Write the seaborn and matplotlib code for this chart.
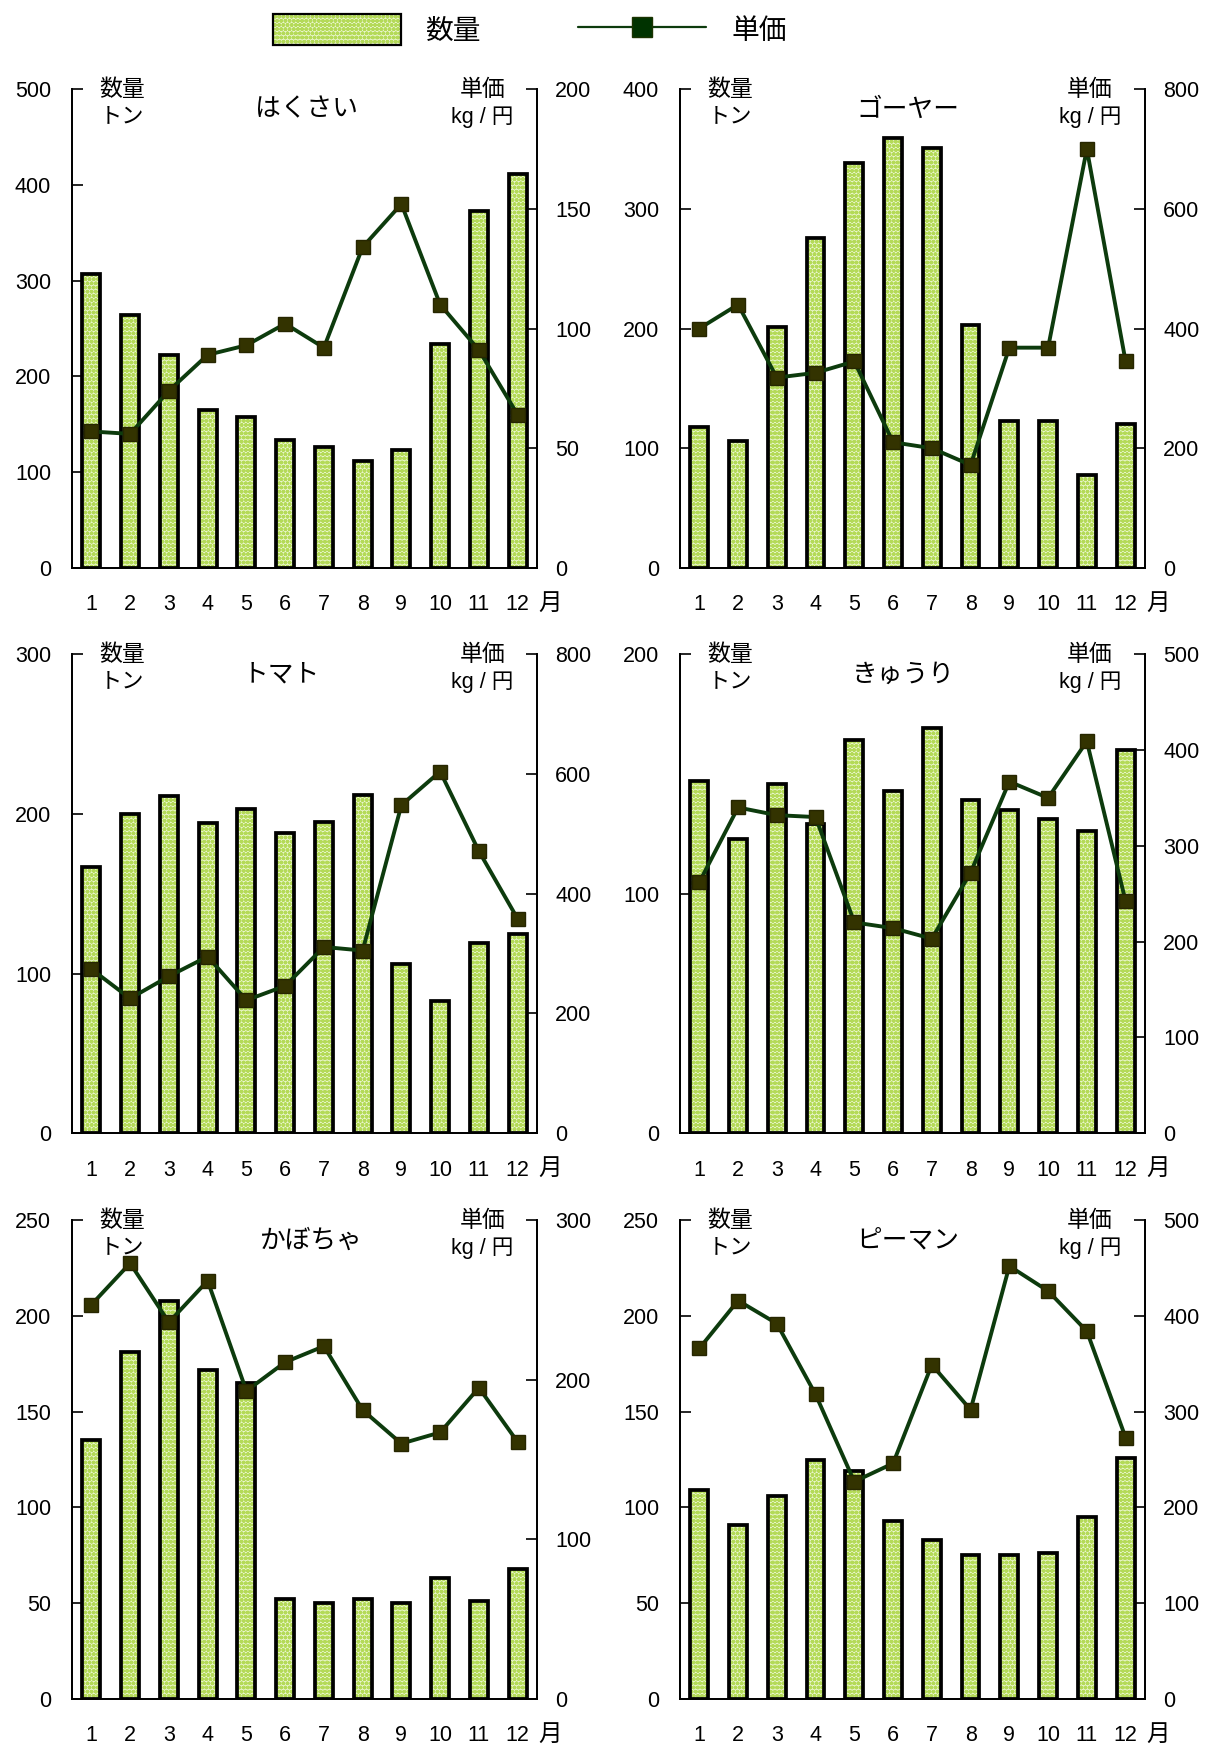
import numpy as np
import seaborn as sns
import matplotlib.pyplot as plt
from matplotlib.patches import Patch
from matplotlib.lines import Line2D
from matplotlib.legend_handler import HandlerTuple
import matplotlib.transforms as mtransforms

months = [str(m) for m in range(1, 13)]

names = ["はくさい", "ゴーヤー", "トマト", "きゅうり", "かぼちゃ", "ピーマン"]

qty_hakusai = [307, 264, 222, 165, 158, 134, 126, 112, 123, 234, 373, 411]
qty_goya = [118, 106, 201, 276, 338, 359, 351, 203, 123, 123, 78, 120]
qty_tomato = [167, 200, 211, 194, 203, 188, 195, 212, 106, 83, 119, 125]
qty_kyuri = [147, 123, 146, 129, 164, 143, 169, 139, 135, 131, 126, 160]
qty_kabocha = [135, 181, 208, 172, 165, 52, 50, 52, 50, 63, 51, 68]
qty_piman = [109, 91, 106, 125, 119, 93, 83, 75, 75, 76, 95, 126]

price_hakusai = [57, 56, 74, 89, 93, 102, 92, 134, 152, 110, 91, 64]
price_goya = [400, 440, 318, 326, 345, 210, 200, 172, 368, 368, 700, 345]
price_tomato = [274, 225, 262, 295, 222, 246, 311, 305, 548, 604, 471, 358]
price_kyuri = [262, 340, 332, 330, 220, 214, 203, 272, 367, 350, 409, 242]
price_kabocha = [247, 273, 236, 262, 193, 211, 221, 181, 160, 167, 195, 161]
price_piman = [366, 416, 392, 318, 227, 246, 349, 302, 452, 426, 384, 273]

qty_list = [qty_hakusai, qty_goya, qty_tomato, qty_kyuri, qty_kabocha, qty_piman]
price_list = [price_hakusai, price_goya, price_tomato, price_kyuri, price_kabocha, price_piman]

# (max, step) for left and right axes
y_left = [(500, 100), (400, 100), (300, 100), (200, 100), (250, 50), (250, 50)]
y_right = [(200, 50), (800, 200), (800, 200), (500, 100), (300, 100), (500, 100)]
title_x = [0.504, 0.49, 0.45, 0.48, 0.515, 0.49]

sns.set_style("white")
plt.rcParams['font.family'] = ['Liberation Sans', 'Noto Sans CJK JP']
plt.rcParams['hatch.linewidth'] = 1.4
plt.rcParams['text.color'] = 'black'
plt.rcParams['xtick.color'] = 'black'
plt.rcParams['ytick.color'] = 'black'

BAR_FACE = "#e9f5cc"
BAR_HATCH = "#b4da58"
LINE_COL = "#0d3b0d"
MARK_COL = "#333300"

fig = plt.figure(figsize=(12.12, 17.46), dpi=100)

lefts = [0.0594, 0.561]
bottoms = [0.6747, 0.351, 0.0269]
w, h = 0.3837, 0.2743

for i in range(6):
    r, c = divmod(i, 2)
    ax = fig.add_axes([lefts[c], bottoms[r], w, h])
    pos = np.arange(12)

    sns.barplot(x=months, y=qty_list[i], ax=ax, color=BAR_FACE, saturation=1,
                width=0.46, hatch="oooo", edgecolor=BAR_HATCH, linewidth=0)
    sns.barplot(x=months, y=qty_list[i], ax=ax, fill=False, width=0.46,
                edgecolor="black", linewidth=2.7)

    lmax, lstep = y_left[i]
    ax.set_ylim(0, lmax)
    ax.set_yticks(np.arange(0, lmax + 1, lstep))
    ax.set_xlim(-0.5, 11.5)
    ax.set_xticks(pos)
    ax.set_xticklabels(months)
    ax.set_xticks(np.arange(0.5, 11, 1), minor=True)
    ax.tick_params(axis='x', which='major', length=0, pad=19, labelsize=15.5)
    ax.tick_params(axis='x', which='minor', direction='in', length=6, width=1.2)
    ax.tick_params(axis='y', direction='in', length=8, width=1.2, pad=15, labelsize=15.5, left=True)
    ax.set_xlabel("")
    ax.set_ylabel("")
    for s in ["left", "bottom", "right"]:
        ax.spines[s].set_linewidth(1.3)
        ax.spines[s].set_color("black")
    ax.spines["top"].set_visible(False)

    ax2 = ax.twinx()
    sns.lineplot(x=pos, y=price_list[i], ax=ax2, color=LINE_COL, linewidth=2.8,
                 marker="s", markersize=10, markerfacecolor=MARK_COL,
                 markeredgecolor="#262600", markeredgewidth=1)
    rmax, rstep = y_right[i]
    ax2.set_ylim(0, rmax)
    ax2.set_yticks(np.arange(0, rmax + 1, rstep))
    ax2.set_xlim(-0.5, 11.5)
    ax2.tick_params(axis='y', direction='in', length=8, width=1.2, pad=13, labelsize=15.5, right=True)
    ax2.set_ylabel("")
    for s in ["left", "bottom", "right"]:
        ax2.spines[s].set_linewidth(1.3)
        ax2.spines[s].set_color("black")
    ax2.spines["top"].set_visible(False)

    ax.text(0.108, 1.0, "数量", transform=ax.transAxes, ha="center", va="center", fontsize=16.5)
    ax.text(0.108, 0.942, "トン", transform=ax.transAxes, ha="center", va="center", fontsize=16)
    ax.text(0.882, 1.0, "単価", transform=ax.transAxes, ha="center", va="center", fontsize=16.5)
    ax.text(0.882, 0.942, "kg / 円", transform=ax.transAxes, ha="center", va="center", fontsize=15.5)
    ax.text(title_x[i], 0.957, names[i], transform=ax.transAxes, ha="center", va="center", fontsize=18.5)

    trans = mtransforms.blended_transform_factory(ax.transData, ax.transAxes)
    ax.text(11.83, -0.075, "月", transform=trans, ha="center", va="center", fontsize=17)

bar_handle = (Patch(facecolor=BAR_FACE, hatch="oooo", edgecolor=BAR_HATCH, linewidth=0),
              Patch(facecolor="none", edgecolor="black", linewidth=1.6))
line_handle = Line2D([0], [0], color=LINE_COL, linewidth=1.6, marker="s", markersize=15,
                     markerfacecolor="#003300", markeredgecolor="#1a3300")
fig.legend([bar_handle, line_handle], ["数量", "単価"], loc="center",
           bbox_to_anchor=(0.437, 0.983), ncol=2, frameon=False, fontsize=20,
           handlelength=4.6, handleheight=1.3, handletextpad=0.9, columnspacing=3.5,
           handler_map={tuple: HandlerTuple(ndivide=1, pad=0)})

fig.savefig("out.png", dpi=100)
